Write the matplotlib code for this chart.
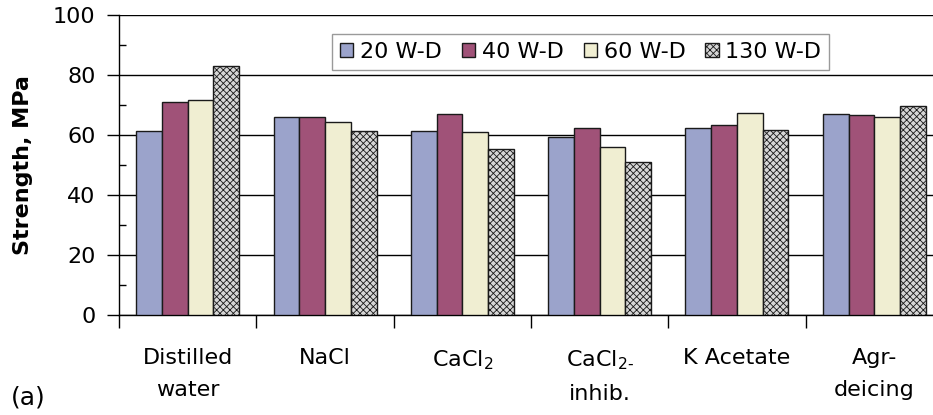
import matplotlib
matplotlib.use("Agg")
import matplotlib.pyplot as plt
import numpy as np

# Compressive strength after wet-dry cycles in different solutions
categories = ["Distilled\nwater", "NaCl", "CaCl$_2$", "CaCl$_{2\\text{-}}$\ninhib.", "K Acetate", "Agr-\ndeicing"]
series_names = ["20 W-D", "40 W-D", "60 W-D", "130 W-D"]
wd20 = [61.3, 65.9, 61.4, 59.4, 62.2, 67.1]
wd40 = [70.9, 65.9, 67.1, 62.3, 63.3, 66.6]
wd60 = [71.7, 64.2, 61.0, 56.1, 67.2, 65.9]
wd130 = [82.9, 61.4, 55.3, 50.9, 61.7, 69.7]
y_ticks = [0, 20, 40, 60, 80, 100]

plt.rcParams["font.family"] = ["DejaVu Sans"]
plt.rcParams["hatch.linewidth"] = 0.6
plt.rcParams["hatch.color"] = "#333333"

fig = plt.figure(figsize=(9.33, 4.15), dpi=100)
W, H = 933, 415
left_px, right_px, top_px, bottom_px = 119, 943, 15, 315
ax = fig.add_axes([left_px / W, 1 - bottom_px / H, (right_px - left_px) / W, (bottom_px - top_px) / H])

values = [wd20, wd40, wd60, wd130]
faces = ["#9ba3cb", "#a05278", "#f0eed2", "#d6d6d6"]
hatches = [None, None, None, "xxxxx"]
bw = 0.1875
x = np.arange(len(categories)) + 0.5
for i, (vals, fc, ht, name) in enumerate(zip(values, faces, hatches, series_names)):
    ax.bar(x + (i - 1.5) * bw, vals, width=bw, color=fc, edgecolor="#1a1a1a",
           linewidth=1.0, hatch=ht, label=name, zorder=3)

ax.set_xlim(0, len(categories))
ax.set_ylim(0, 100)
ax.set_yticks(y_ticks)
ax.set_yticks(np.arange(10, 100, 20), minor=True)
ax.yaxis.grid(True, which="major", color="black", linewidth=1.0, zorder=0)
ax.set_axisbelow(True)

ax.tick_params(axis="y", which="major", direction="out", length=9, width=1, labelsize=16, pad=8)
ax.tick_params(axis="y", which="minor", direction="in", length=5, width=1)

ax.set_xticks(x)
ax.set_xticklabels(categories, linespacing=1.75)
ax.set_xticks(np.arange(0, len(categories) + 1), minor=True)
ax.tick_params(axis="x", which="major", length=0, labelsize=16, pad=24)
ax.tick_params(axis="x", which="minor", direction="out", length=9, width=1)

for side in ["top", "right"]:
    ax.spines[side].set_visible(False)
for side in ["left", "bottom"]:
    ax.spines[side].set_linewidth(1.0)
    ax.spines[side].set_color("black")

ax.set_ylabel("Strength, MPa", fontsize=16, fontweight="bold", labelpad=14)

leg = ax.legend(loc="upper left", bbox_to_anchor=(332 / W, 1 - 34 / H), bbox_transform=fig.transFigure,
                ncol=4, fontsize=16, frameon=True, fancybox=False, edgecolor="#9a9a9a",
                framealpha=1, handlelength=0.6, handleheight=0.6, handletextpad=0.3,
                columnspacing=0.9, borderpad=0.35, borderaxespad=0)
leg.get_frame().set_linewidth(1.0)
leg.set_zorder(5)

fig.text(11 / W, 1 - 404 / H, "(a)", fontsize=18, va="baseline", ha="left")

fig.savefig("out.png", dpi=100)
